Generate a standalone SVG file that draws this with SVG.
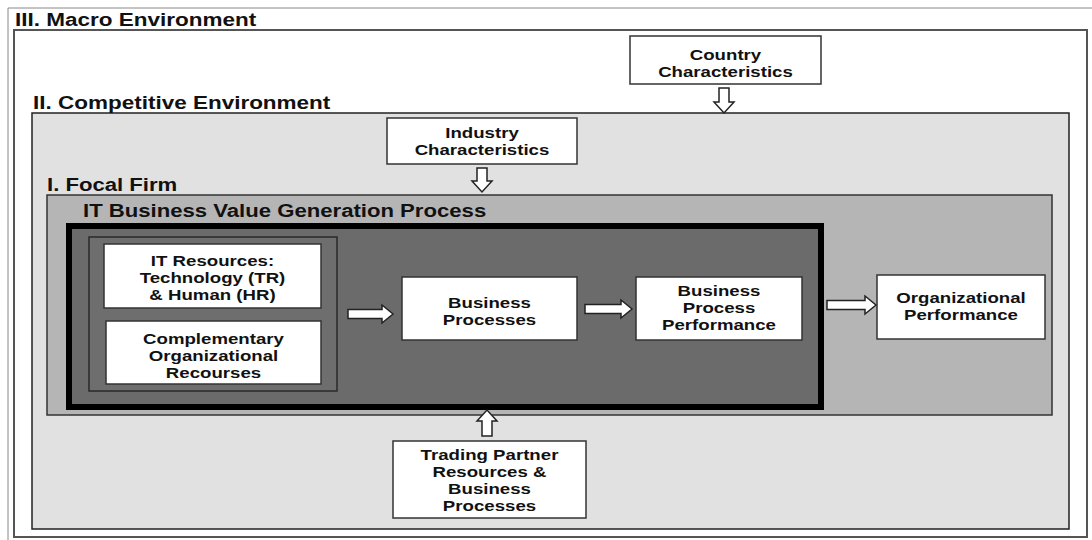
<svg xmlns="http://www.w3.org/2000/svg" width="1092" height="540" viewBox="0 0 1092 540">
<style>
.title{font-family:"Liberation Sans",Arial,sans-serif;font-weight:bold;font-size:18px;fill:#111}
.lbl{font-family:"Liberation Sans",Arial,sans-serif;font-weight:bold;font-size:14.8px;fill:#111;text-anchor:middle}
.box{fill:#fff;stroke:#333;stroke-width:1.5}
.arrow{fill:#fff;stroke:#222;stroke-width:1.5;stroke-linejoin:miter}
</style>
<rect width="1092" height="540" fill="#fff"/>
<path d="M8,540 V8 H1092" fill="none" stroke="#888" stroke-width="1"/>

<g id="macro-environment">
<rect x="14" y="30" width="1073" height="507" fill="#fff" stroke="#555" stroke-width="2"/>
<text class="title" transform="translate(15,26) scale(1.25,1)">III. Macro Environment</text>
</g>

<g id="competitive-environment">
<rect x="32" y="113" width="1037" height="416" fill="#e1e1e1" stroke="#222" stroke-width="1.5"/>
<text class="title" transform="translate(33,109) scale(1.25,1)">II. Competitive Environment</text>
</g>

<g id="focal-firm">
<rect x="47" y="195" width="1005" height="220" fill="#b5b5b5" stroke="#333" stroke-width="1.5"/>
<text class="title" transform="translate(47,191) scale(1.23,1)">I. Focal Firm</text>
</g>

<g id="it-bvg-process">
<rect x="69" y="226" width="752" height="181" fill="#6b6b6b" stroke="#000" stroke-width="6"/>
<text class="title" transform="translate(83,217) scale(1.23,1)">IT Business Value Generation Process</text>
</g>

<g id="resources-group">
<rect x="89" y="237" width="248" height="154" fill="#6e6e6e" stroke="#2a2a2a" stroke-width="1.5"/>
</g>

<g id="it-resources">
<rect class="box" x="104" y="244" width="217" height="64"/>
<text class="lbl" transform="translate(212.5,0) scale(1.26,1)"><tspan x="0" y="266">IT Resources:</tspan><tspan x="0" y="283">Technology (TR)</tspan><tspan x="0" y="300">&amp; Human (HR)</tspan></text>
</g>

<g id="complementary-resources">
<rect class="box" x="106" y="321" width="215" height="63"/>
<text class="lbl" transform="translate(213.5,0) scale(1.26,1)"><tspan x="0" y="344">Complementary</tspan><tspan x="0" y="361">Organizational</tspan><tspan x="0" y="378">Recourses</tspan></text>
</g>

<g id="business-processes">
<rect class="box" x="402" y="277" width="175" height="63"/>
<text class="lbl" transform="translate(489.5,0) scale(1.26,1)"><tspan x="0" y="308">Business</tspan><tspan x="0" y="325">Processes</tspan></text>
</g>

<g id="business-process-performance">
<rect class="box" x="636" y="277" width="166" height="63"/>
<text class="lbl" transform="translate(719,0) scale(1.26,1)"><tspan x="0" y="296">Business</tspan><tspan x="0" y="313">Process</tspan><tspan x="0" y="330">Performance</tspan></text>
</g>

<g id="organizational-performance">
<rect class="box" x="877" y="275" width="168" height="64"/>
<text class="lbl" transform="translate(961,0) scale(1.26,1)"><tspan x="0" y="303">Organizational</tspan><tspan x="0" y="320">Performance</tspan></text>
</g>

<g id="country-characteristics">
<rect class="box" x="630" y="36" width="191" height="48"/>
<text class="lbl" transform="translate(725.5,0) scale(1.26,1)"><tspan x="0" y="60">Country</tspan><tspan x="0" y="77">Characteristics</tspan></text>
</g>

<g id="industry-characteristics">
<rect class="box" x="387" y="118" width="190" height="46"/>
<text class="lbl" transform="translate(482,0) scale(1.26,1)"><tspan x="0" y="138">Industry</tspan><tspan x="0" y="155">Characteristics</tspan></text>
</g>

<g id="trading-partner">
<rect class="box" x="393" y="441" width="193" height="77"/>
<text class="lbl" transform="translate(489.5,0) scale(1.26,1)"><tspan x="0" y="460">Trading Partner</tspan><tspan x="0" y="477">Resources &amp;</tspan><tspan x="0" y="494">Business</tspan><tspan x="0" y="511">Processes</tspan></text>
</g>

<g id="connectors">
<path class="arrow" d="M719,88 H729 V102 H734 L724,113 L714,102 H719 Z"/>
<path class="arrow" d="M477,168 H487 V181 H492 L482,192 L472,181 H477 Z"/>
<path class="arrow" d="M482,436 H492 V421 H497 L487,410 L477,421 H482 Z"/>
<path class="arrow" d="M348,309.5 V318.5 H382 V323 L393,314 L382,305 V309.5 Z"/>
<path class="arrow" d="M585,304.5 V313.5 H621 V318 L632,309 L621,300 V304.5 Z"/>
<path class="arrow" d="M827,300.5 V309.5 H865 V314 L876,305 L865,296 V300.5 Z"/>
</g>
</svg>
